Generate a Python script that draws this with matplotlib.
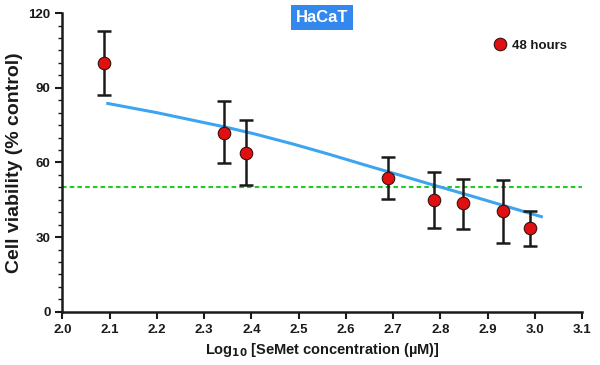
import matplotlib
matplotlib.use("Agg")
import matplotlib.pyplot as plt
from matplotlib.ticker import MultipleLocator

plt.rcParams['font.family'] = ['Liberation Sans', 'DejaVu Sans']
plt.rcParams['font.weight'] = 'bold'

# measured points (48 hours)
log_conc = [2.088, 2.343, 2.388, 2.689, 2.786, 2.849, 2.932, 2.989]
viability = [100.0, 72.0, 63.7, 53.8, 44.7, 43.5, 40.4, 33.5]
err_upper = [112.7, 84.6, 76.9, 62.1, 56.1, 53.4, 53.0, 40.4]
err_lower = [87.0, 59.6, 50.8, 45.4, 33.5, 33.2, 27.7, 26.4]

# fitted curve
fit_x = [2.096, 2.2, 2.3, 2.343, 2.408, 2.49, 2.566, 2.64, 2.714, 2.78, 2.848, 2.93, 3.014]
fit_y = [83.7, 80.0, 76.0, 74.3, 71.4, 67.3, 63.2, 59.0, 54.9, 51.2, 47.5, 42.9, 38.2]

ic50_level = 50

yerr = [[v - lo for v, lo in zip(viability, err_lower)],
        [hi - v for v, hi in zip(viability, err_upper)]]

fig = plt.figure(figsize=(6.0, 3.65), dpi=100)
ax = fig.add_axes([0.104, 0.146, 0.866, 0.818])

ax.axhline(ic50_level, color='#22cc22', linestyle=(0, (2.2, 1.5)), linewidth=1.5, zorder=1)
ax.plot(fit_x, fit_y, color='#3da5f0', linewidth=2.2, zorder=2)
ax.errorbar(log_conc, viability, yerr=yerr, fmt='none', ecolor='#1a1a1a',
            elinewidth=1.8, capsize=5, capthick=1.8, zorder=3)
ax.plot(log_conc, viability, 'o', color='#e01010', markeredgecolor='#3a1010',
        markeredgewidth=0.8, markersize=9, zorder=4, label='48 hours')

ax.set_xlim(2.0, 3.1)
ax.set_ylim(0, 120)
ax.set_xticks([2.0, 2.1, 2.2, 2.3, 2.4, 2.5, 2.6, 2.7, 2.8, 2.9, 3.0, 3.1])
ax.set_yticks([0, 30, 60, 90, 120])
ax.yaxis.set_minor_locator(MultipleLocator(5))

for side in ['top', 'right']:
    ax.spines[side].set_visible(False)
for side in ['left', 'bottom']:
    ax.spines[side].set_linewidth(1.8)
    ax.spines[side].set_color('#1a1a1a')

ax.tick_params(axis='both', which='major', labelsize=9.5, width=1.5, length=5,
               color='#1a1a1a', labelcolor='#1a1a1a')
ax.tick_params(axis='y', which='minor', width=1, length=3, color='#1a1a1a')
for lbl in ax.get_xticklabels() + ax.get_yticklabels():
    lbl.set_fontweight('bold')

ax.set_xlabel(r'Log$_{\mathbf{10}}$ [SeMet concentration (µM)]', fontsize=10.5,
              fontweight='bold', labelpad=4, color='#1a1a1a')
ax.set_ylabel('Cell viability (% control)', fontsize=14, fontweight='bold',
              labelpad=4, color='#1a1a1a')

ax.text(0.5, 0.987, 'HaCaT', transform=ax.transAxes, ha='center', va='center',
        fontsize=12, fontweight='bold', color='white',
        bbox=dict(boxstyle='square,pad=0.3', facecolor='#3388ee', edgecolor='none'))

leg = ax.legend(loc='upper right', bbox_to_anchor=(0.982, 0.93), frameon=False,
                fontsize=9.5, handletextpad=0.3, handlelength=1.2, borderaxespad=0)
for t in leg.get_texts():
    t.set_fontweight('bold')
    t.set_color('#1a1a1a')

fig.savefig('out.png', dpi=100)
